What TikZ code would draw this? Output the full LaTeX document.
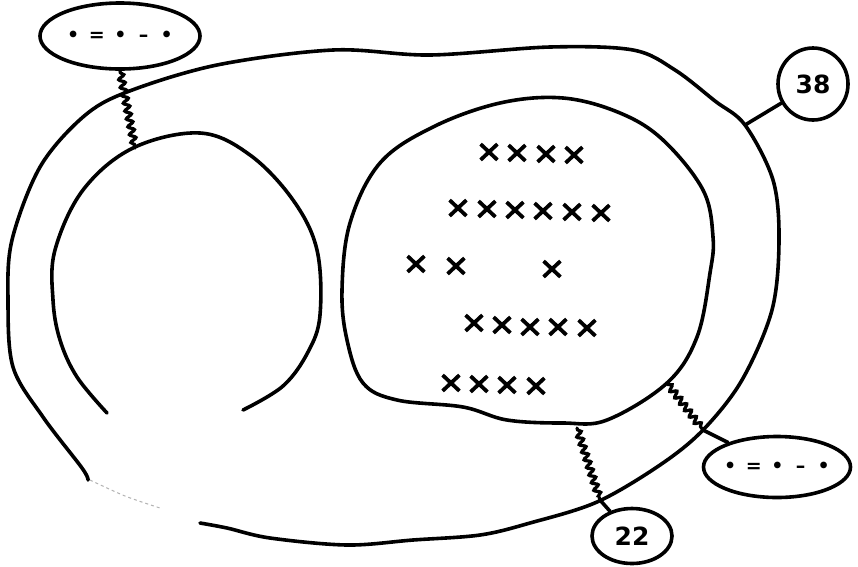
\documentclass[tikz,border=0pt]{standalone}
\usepackage{fontspec}
\usetikzlibrary{shapes.geometric,shapes.misc,decorations.pathmorphing}
\newfontfamily\djs{DejaVu Sans}
\newcommand\lbltext{\makebox[0pt]{\djs\fontsize{19}{19}\selectfont\bfseries •\hspace{.5em}=\hspace{.5em}•\hspace{.65em}–\hspace{.65em}•}}
\newcommand\numtext{\djs\fontsize{25}{25}\selectfont\bfseries}
\begin{document}
\begin{tikzpicture}[x=1pt,y=-1pt,
  line/.style={line width=3.6pt, line join=round, line cap=round},
  faint/.style={line width=1pt, gray!60, dashed},
  zz/.style={line width=3.2pt, line cap=round, decorate, decoration={snake, amplitude=3pt, segment length=8pt, pre length=2pt, post length=2pt}},
  lbl/.style={draw, line width=3.6pt, ellipse, inner sep=0pt},
  xm/.style={draw, cross out, line width=3.8pt, minimum width=13pt, minimum height=12pt, inner sep=0pt}]
\useasboundingbox (0,0) rectangle (858,566);
\fill[white] (0,0) rectangle (858,566);

% outer loop
\draw[line] plot[smooth, tension=0.55] coordinates {(88,480) (82,468) (43,417) (13,367) (8,300) (12,240) (40,167) (83,117) (127,92) (217,65) (333,50) (430,55) (550,47) (633,50) (675,70) (715,101) (745,125) (773,180) (779,240) (772,310) (742,380) (703,430) (660,465) (597,502) (530,523) (480,535) (413,540) (347,545) (270,538) (227,528) (200,523)};
\draw[faint] plot[smooth] coordinates {(90,480) (125,496) (160,508)};

% inner left horseshoe
\draw[line] plot[smooth, tension=0.6] coordinates {(107,413) (77,377) (60,340) (53,300) (55,250) (83,190) (133,148) (200,133) (250,155) (293,200) (317,250) (320,315) (308,352) (283,386) (243,410)};

% inner right blob
\draw[line] plot[smooth cycle, tension=0.6] coordinates {(563,98) (620,113) (663,140) (703,190) (713,237) (710,273) (697,337) (667,383) (607,420) (563,423) (507,420) (463,407) (397,400) (363,383) (347,340) (342,290) (350,223) (380,163) (433,127) (500,103)};

% crosses
\foreach \x/\y [count=\i] in {489/152,517/153,546/154,574/155,
  458/208,487/209,515/210,543/211,572/212,601/213,
  416/264,456/266,552/269,
  474/323,502/325,530/327,558/327,587/328,
  451/383,479/384,507/385,536/386}
  \node[xm] (x\i) at (\x,\y) {};

% labels
\node[lbl, minimum width=160pt, minimum height=66pt] (tl) at (120,36) {\lbltext};
\node[lbl, minimum width=147pt, minimum height=61pt] (br) at (777,467) {\lbltext};
\node[lbl, minimum width=70pt, minimum height=72pt] (n38) at (813,84) {\numtext 38};
\node[lbl, minimum width=80pt, minimum height=55pt] (n22) at (632,536) {\numtext 22};

% connector ends
\coordinate (tlEnd) at (135,148);
\coordinate (brStart) at (667,383);
\coordinate (brCross) at (703,430);
\coordinate (ttStart) at (577,428);
\coordinate (ttCross) at (600,500);
\coordinate (e38) at (745,125);

% connectors
\draw[zz] (tl.south) -- (tlEnd);
\draw[zz] (brStart) -- (brCross);
\draw[line] (brCross) -- (br);
\draw[zz] (ttStart) -- (ttCross);
\draw[line] (ttCross) -- (n22);
\draw[line] (e38) -- (n38);
\end{tikzpicture}
\end{document}
